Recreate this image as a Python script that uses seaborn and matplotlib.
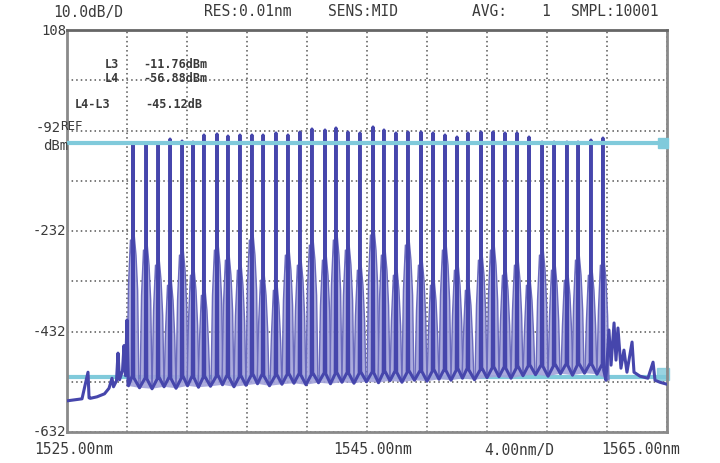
import matplotlib
matplotlib.use('Agg')
import numpy as np
import pandas as pd
import matplotlib.pyplot as plt
import seaborn as sns

# channel centres (nm) and peak levels (dBm)
peak_wl = [1529.40, 1530.27, 1531.07, 1531.87, 1532.67, 1533.40, 1534.13, 1535.00,
           1535.73, 1536.53, 1537.33, 1538.07, 1538.93, 1539.73, 1540.53, 1541.33,
           1542.20, 1542.93, 1543.73, 1544.53, 1545.40, 1546.13, 1546.93, 1547.73,
           1548.60, 1549.40, 1550.20, 1551.00, 1551.73, 1552.60, 1553.40, 1554.20,
           1555.00, 1555.80, 1556.67, 1557.47, 1558.33, 1559.07, 1559.93, 1560.73]
peak_db = [-11.7, -11.7, -11.9, -10.9, -11.3, -11.5, -10.1, -9.9,
           -10.3, -10.1, -10.1, -10.1, -9.7, -10.1, -9.5, -8.9,
           -9.1, -8.7, -9.5, -9.7, -8.5, -9.1, -9.7, -9.5,
           -9.5, -9.7, -10.1, -10.5, -9.7, -9.5, -9.5, -9.7,
           -9.7, -10.5, -11.5, -11.5, -11.5, -11.5, -11.1, -10.7]
# top of the lighter side lobes around each channel
lobe_db = [-31, -33, -36, -40, -34, -38, -42, -33,
           -35, -37, -31, -39, -41, -34, -36, -32,
           -35, -31, -33, -37, -30, -34, -38, -32,
           -36, -40, -33, -37, -41, -35, -33, -38,
           -36, -40, -34, -37, -39, -35, -38, -36]
# floor between neighbouring channels
trough_db = [-60.4, -60.6, -60.2, -60.5, -60.0, -60.3, -60.1, -59.8, -60.2, -59.9,
             -59.6, -60.0, -59.7, -59.5, -59.8, -59.4, -59.6, -59.3, -59.5, -59.2,
             -59.4, -59.0, -59.3, -58.9, -59.1, -58.7, -58.9, -58.5, -58.8, -58.4,
             -58.2, -58.5, -58.0, -57.8, -58.1, -57.6, -57.9, -57.5, -57.7]

# noise floor outside the band
left_wl = [1525.00, 1525.50, 1526.00, 1526.40, 1526.47, 1526.55, 1527.00, 1527.50,
           1527.80, 1528.00, 1528.10, 1528.30, 1528.40, 1528.50, 1528.70, 1528.80,
           1528.90, 1529.00, 1529.10]
left_db = [-63.0, -62.8, -62.6, -57.3, -62.4, -62.5, -62.2, -61.6,
           -60.5, -58.5, -60.2, -59.0, -53.5, -58.8, -57.0, -52.0,
           -58.0, -46.9, -60.0]
right_wl = [1560.93, 1561.13, 1561.27, 1561.47, 1561.60, 1561.73, 1561.93, 1562.13,
            1562.33, 1562.67, 1562.80, 1563.20, 1563.73, 1564.07, 1564.20, 1564.53,
            1565.00]
right_db = [-58.9, -48.9, -55.9, -47.5, -54.9, -48.5, -56.5, -52.9,
            -57.3, -51.3, -57.3, -58.1, -58.5, -55.3, -58.9, -59.3, -59.7]

l3_db = -11.76
l4_line_db = -58.2

header = ["10.0dB/D", "RES:0.01nm", "SENS:MID", "AVG:    1", "SMPL:10001"]
y_labels = ["108", "-92", "-232", "-432", "-632"]
x_labels = ["1525.00nm", "1545.00nm", "4.00nm/D", "1565.00nm"]

trace_col = '#4646ac'
lobe_col = '#a2a2da'
cyan = '#80cadb'
text_col = '#3a3a3a'

# lobe outline, relative to a channel centre (shape only)
lobe_dx = [-0.40, -0.30, -0.17, -0.05, 0.08, 0.20, 0.31, 0.40]
lobe_dy = [None, -9, 0, -5, 1, -3, -10, None]


def build_trace():
    xs, ys = list(left_wl), list(left_db)
    lobes = []
    n = len(peak_wl)
    for i in range(n):
        c = peak_wl[i]
        tl = trough_db[i - 1] if i > 0 else left_db[-1]
        tr = trough_db[i] if i < n - 1 else right_db[0]
        xs += [c - 0.05, c, c + 0.05]
        ys += [tl + 2, peak_db[i], tr + 2]
        if i < n - 1:
            xs.append((c + peak_wl[i + 1]) / 2)
            ys.append(tr)
        lx = [c + d for d in lobe_dx]
        ly = [tl] + [lobe_db[i] + d for d in lobe_dy[1:-1]] + [tr]
        lobes.append((lx, ly))
    xs += right_wl
    ys += right_db
    return pd.DataFrame({'wl': xs, 'db': ys}), lobes


def draw():
    sns.set_style("white")
    plt.rcParams['font.family'] = ['DejaVu Sans Mono', 'DejaVu Sans']
    fig = plt.figure(figsize=(7.2, 4.63), dpi=100)
    ax = fig.add_axes([67 / 720, 1 - 432 / 463, 600 / 720, 402 / 463])

    trace, lobes = build_trace()

    # light side lobes
    for lx, ly in lobes:
        ax.fill(lx, ly, color=lobe_col, alpha=0.9, lw=0, zorder=2)
        ax.plot(lx, ly, color='#6a6abd', lw=1.0, zorder=2)

    sns.lineplot(data=trace, x='wl', y='db', sort=False, estimator=None,
                 color=trace_col, lw=2.2, ax=ax, zorder=3)

    # marker lines
    ax.axhline(l3_db, xmin=0, xmax=0.995, color=cyan, lw=3, zorder=4)
    ax.axhline(l4_line_db, xmin=0, xmax=1, color=cyan, lw=3, zorder=1)
    ax.plot([1564.75], [l3_db], marker='s', ms=7, color=cyan, zorder=5, clip_on=False)
    ax.plot([1564.7], [l4_line_db + 0.6], marker='s', ms=9, color=cyan, alpha=0.8,
            zorder=1, clip_on=False)

    ax.set_xlim(1525, 1565)
    ax.set_ylim(-69.2, 10.8)
    ax.set_xticks(np.arange(1525, 1565.1, 4))
    ax.set_yticks(np.arange(-69.2, 10.9, 10))
    ax.grid(True, color='#555555', ls=(0, (1, 2)), lw=1.1)
    ax.tick_params(length=0, labelbottom=False, labelleft=False)
    ax.set_xlabel('')
    ax.set_ylabel('')
    for side in ['left', 'right', 'bottom', 'top']:
        ax.spines[side].set_color('#8a8a8a')
        ax.spines[side].set_linewidth(2)
    ax.spines['top'].set_color('#666666')

    # header line
    hx = [53, 204, 328, 472, 571]
    for s, x in zip(header, hx):
        fig.text(x / 720, 1 - 12 / 463, s, fontsize=10.5, color=text_col,
                 ha='left', va='center')

    # y labels
    yl_pos = [31, 128, 231, 332, 432]
    for s, y in zip(y_labels, yl_pos):
        right = 66 if s != "-92" else 61
        fig.text(right / 720, 1 - y / 463, s, fontsize=10, color=text_col,
                 ha='right', va='center')
    fig.text(60 / 720, 1 - 126 / 463, "REF", fontsize=9, color=text_col,
             ha='left', va='center')
    fig.text(43 / 720, 1 - 146 / 463, "dBm", fontsize=10, color=text_col,
             ha='left', va='center')

    # x labels
    xl_pos = [34, 333, 484, 601]
    for s, x in zip(x_labels, xl_pos):
        fig.text(x / 720, 1 - 450 / 463, s, fontsize=10.5, color=text_col,
                 ha='left', va='center')

    # marker readout
    readout = [(105, 65, "L3"), (143, 65, "-11.76dBm"),
               (105, 79, "L4"), (143, 79, "-56.88dBm"),
               (75, 104, "L4-L3"), (145, 104, "-45.12dB")]
    for x, y, s in readout:
        fig.text(x / 720, 1 - y / 463, s, fontsize=8.5, color=text_col,
                 weight='bold', va='center')

    fig.savefig('out.png', dpi=100)
    plt.close(fig)


if __name__ == "__main__":
    draw()
